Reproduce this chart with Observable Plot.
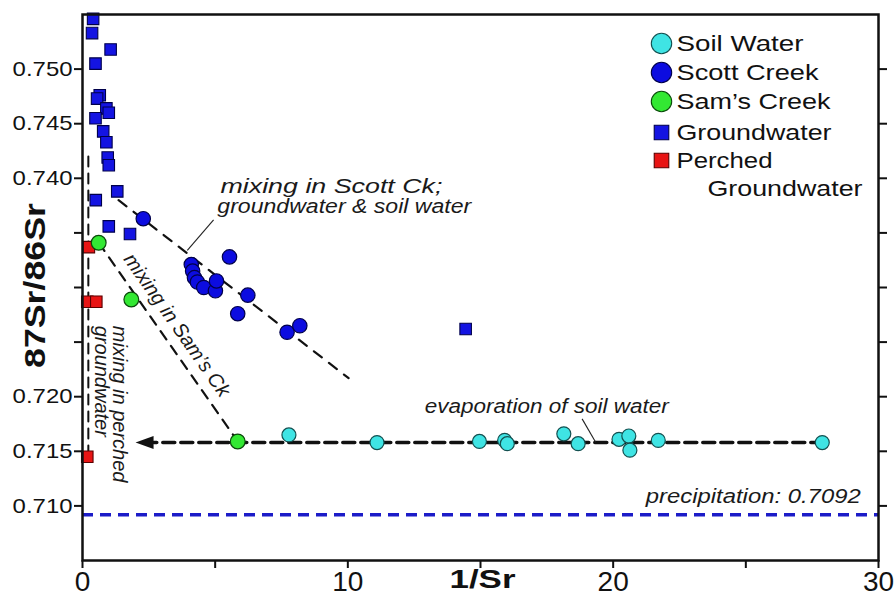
<!DOCTYPE html>
<html><head><meta charset="utf-8">
<script src="https://cdn.jsdelivr.net/npm/d3@7"></script>
<script src="https://cdn.jsdelivr.net/npm/@observablehq/plot@0.6"></script>
<style>body{margin:0;background:#fff}svg{display:block}</style>
</head><body><div id="chart"></div>
<script>
// ---------- data ----------
const soilWaterX = [7.78, 11.10, 14.96, 15.91, 16.01, 18.14, 18.68, 20.22, 20.59, 20.63, 21.70, 27.88];
const soilWaterY = [0.7165, 0.7158, 0.7159, 0.7160, 0.7157, 0.7166, 0.7157, 0.7161, 0.7164, 0.7151, 0.7160, 0.7158];

const scottX = [2.29, 4.10, 4.15, 4.22, 4.33, 4.57, 5.01, 5.05, 5.54, 6.23, 5.85, 7.71, 8.19];
const scottY = [0.7363, 0.7321, 0.7315, 0.7309, 0.7305, 0.7300, 0.7297, 0.7306, 0.7328, 0.7293, 0.7276, 0.7259, 0.7265];

const samsX = [0.61, 1.84, 5.85];
const samsY = [0.7341, 0.7289, 0.7159];

const groundX = [0.40, 0.36, 1.06, 0.49, 0.65, 0.55, 0.90, 0.99, 0.49, 0.78, 0.90, 0.95, 0.99, 1.31, 0.50, 0.99, 1.79, 14.44];
const groundY = [0.7546, 0.7533, 0.7518, 0.7505, 0.7476, 0.7473, 0.7464, 0.7460, 0.7455, 0.7443, 0.7433, 0.7419, 0.7412, 0.7388, 0.7380, 0.7356, 0.7349, 0.7262];

const perchedX = [0.24, 0.18, 0.52, 0.18];
const perchedY = [0.7337, 0.7287, 0.7287, 0.7145];

const precipitation = 0.7092;

// trend / mixing lines (endpoints)
const scottMixX = [1.36, 10.03], scottMixY = [0.7380, 0.7217];
const samsMixX = [0.61, 5.85], samsMixY = [0.7341, 0.7159];
const perchedMixX = [0.22, 0.22], perchedMixY = [0.7420, 0.7148];
const evapX = [27.9, 2.68], evapY = [0.7158, 0.7158];
const arrowX = [2.0], arrowY = [0.7158];

// annotation labels
const noteText = ["mixing in Scott Ck;", "groundwater & soil water", "evaporation of soil water"];
const noteX = [5.2, 5.08, 12.9];
const noteY = [0.73862, 0.73678, 0.71855];
const precipText = "precipitation: 0.7092";
const precipTextX = 29.33, precipTextY = 0.71031;
const samsText = "mixing in Sam\u2019s Ck";
const samsTextX = 3.56, samsTextY = 0.72655;
const perchedText = ["mixing in perched", "groundwater"];
const perchedTextX = [1.39, 0.72];
const perchedTextY = [0.7265, 0.7265];
const leaderX1 = [3.95, 18.83], leaderY1 = [0.7334, 0.71797];
const leaderX2 = [4.94, 19.34], leaderY2 = [0.7362, 0.71583];

// axes
const xTicks = [0, 5, 10, 15, 20, 25, 30];
const xTickLabels = ["0", "", "10", "", "20", "", "30"];
const yTicks = [0.710, 0.715, 0.720, 0.725, 0.730, 0.735, 0.740, 0.745, 0.750];
const yTickLabels = ["0.710", "0.715", "0.720", "", "", "", "0.740", "0.745", "0.750"];

// legend
const legendLabels = ["Soil Water", "Scott Creek", "Sam\u2019s Creek", "Groundwater", "Perched"];
const legendLabel2 = "Groundwater";

// ---------- styles ----------
const styles = [
  {fill: "#3fe4e4", stroke: "#135050", symbol: "circle"},
  {fill: "#0c0ce0", stroke: "#00004a", symbol: "circle"},
  {fill: "#33e833", stroke: "#0b4a0b", symbol: "circle"},
  {fill: "#1414e2", stroke: "#00004a", symbol: "square"},
  {fill: "#e81414", stroke: "#5a0000", symbol: "square"}
];

const pts = (xs, ys) => xs.map((x, i) => ({x, y: ys[i]}));
const soil = pts(soilWaterX, soilWaterY);
const scott = pts(scottX, scottY);
const sams = pts(samsX, samsY);
const ground = pts(groundX, groundY);
const perched = pts(perchedX, perchedY);

const leftTriangle = {
  draw(ctx) { ctx.moveTo(0, 0); ctx.lineTo(18, -6.5); ctx.lineTo(18, 6.5); ctx.closePath(); }
};

const legendRowDy = [29, 58, 87, 118, 146];
const legendMarks = legendLabels.flatMap((lab, i) => [
  Plot.dot([lab], {frameAnchor: "top-left", dx: 579, dy: legendRowDy[i],
    symbol: styles[i].symbol, r: styles[i].symbol === "circle" ? 10.2 : 8.2,
    fill: styles[i].fill, stroke: styles[i].stroke, strokeWidth: 1.1}),
  Plot.text([lab], {frameAnchor: "top-left", dx: 594, dy: legendRowDy[i], text: d => d,
    textAnchor: "start", lineAnchor: "middle", fontSize: 22, fill: "#111"})
]);

const chart = Plot.plot({
  width: 896, height: 597,
  marginLeft: 82, marginRight: 18, marginTop: 14, marginBottom: 37,
  style: {fontFamily: "'Liberation Sans', Arial, sans-serif", background: "#fff", color: "#111"},
  x: {domain: [0, 30]},
  y: {domain: [0.705, 0.755]},
  marks: [
    Plot.ruleY([precipitation], {stroke: "#1c1cc8", strokeWidth: 3.5, strokeDasharray: "11,7"}),
    Plot.line(pts(scottMixX, scottMixY), {x: "x", y: "y", stroke: "#111", strokeWidth: 2.2, strokeDasharray: "10,9"}),
    Plot.line(pts(samsMixX, samsMixY), {x: "x", y: "y", stroke: "#111", strokeWidth: 2.2, strokeDasharray: "10,8"}),
    Plot.line(pts(perchedMixX, perchedMixY), {x: "x", y: "y", stroke: "#111", strokeWidth: 2, strokeDasharray: "10,7"}),
    Plot.line(pts(evapX, evapY), {x: "x", y: "y", stroke: "#111", strokeWidth: 3.5, strokeDasharray: "12,6"}),
    Plot.dot(pts(arrowX, arrowY), {x: "x", y: "y", symbol: leftTriangle, fill: "#111", stroke: "none"}),
    Plot.link(leaderX1.map((x, i) => ({x1: x, y1: leaderY1[i], x2: leaderX2[i], y2: leaderY2[i]})),
      {x1: "x1", y1: "y1", x2: "x2", y2: "y2", stroke: "#222", strokeWidth: 1.1}),
    Plot.dot(ground, {x: "x", y: "y", symbol: "square", r: 6.5, fill: styles[3].fill, stroke: styles[3].stroke, strokeWidth: 1.1}),
    Plot.dot(perched, {x: "x", y: "y", symbol: "square", r: 6.5, fill: styles[4].fill, stroke: styles[4].stroke, strokeWidth: 1.1}),
    Plot.dot(scott, {x: "x", y: "y", r: 7.2, fill: styles[1].fill, stroke: styles[1].stroke, strokeWidth: 1.2}),
    Plot.dot(sams, {x: "x", y: "y", r: 7.4, fill: styles[2].fill, stroke: styles[2].stroke, strokeWidth: 1.2}),
    Plot.dot(soil, {x: "x", y: "y", r: 7, fill: styles[0].fill, stroke: styles[0].stroke, strokeWidth: 1.2}),
    Plot.text(noteText.map((t, i) => ({t, x: noteX[i], y: noteY[i]})),
      {x: "x", y: "y", text: "t", textAnchor: "start", lineAnchor: "bottom", fontSize: 20, fontStyle: "italic", fill: "#1a1a1a"}),
    Plot.text([{t: precipText, x: precipTextX, y: precipTextY}],
      {x: "x", y: "y", text: "t", textAnchor: "end", lineAnchor: "bottom", fontSize: 20, fontStyle: "italic", fill: "#1a1a1a"}),
    Plot.text([{t: samsText, x: samsTextX, y: samsTextY}],
      {x: "x", y: "y", text: "t", rotate: 55, textAnchor: "middle", lineAnchor: "middle", fontSize: 20, fontStyle: "italic", fill: "#1a1a1a"}),
    Plot.text(perchedText.map((t, i) => ({t, x: perchedTextX[i], y: perchedTextY[i]})),
      {x: "x", y: "y", text: "t", rotate: 90, textAnchor: "start", lineAnchor: "middle", fontSize: 20, fontStyle: "italic", fill: "#1a1a1a"}),
    ...legendMarks,
    Plot.text([legendLabel2], {frameAnchor: "top-left", dx: 625, dy: 174, text: d => d,
      textAnchor: "start", lineAnchor: "middle", fontSize: 22, fill: "#111"}),
    Plot.axisX({ticks: xTicks, tickFormat: d => xTickLabels[xTicks.indexOf(d)], tickSize: 8, tickPadding: 3,
      fontSize: 28, strokeWidth: 2, label: null}),
    Plot.axisY({ticks: yTicks, tickFormat: d => yTickLabels[yTicks.indexOf(d)], tickSize: 8, tickPadding: 2,
      fontSize: 21, strokeWidth: 2, label: null}),
    Plot.axisY({anchor: "right", ticks: yTicks, tickFormat: () => "", tickSize: 8, strokeWidth: 2, label: null}),
    Plot.text(["1/Sr"], {frameAnchor: "bottom", dx: 2, dy: 10, text: d => d, lineAnchor: "top",
      fontSize: 25, fontWeight: "bold", fill: "#111"}),
    Plot.text(["87Sr/86Sr"], {frameAnchor: "left", dx: -47, dy: -2, text: d => d, rotate: -90,
      lineAnchor: "middle", textAnchor: "middle", fontSize: 30, fontWeight: "bold", fill: "#111"}),
    Plot.frame({stroke: "#111", strokeWidth: 2.5})
  ]
});

document.getElementById("chart").append(chart);

// horizontal stretch of lettering to match the reference typeface widths
const targetWidth = new Map([
  ["1/Sr", 66], ["87Sr/86Sr", 165],
  ["Soil Water", 127], ["Scott Creek", 142], ["Sam\u2019s Creek", 154], ["Groundwater", 155], ["Perched", 96],
  ["mixing in Scott Ck;", 222], ["groundwater & soil water", 254],
  ["evaporation of soil water", 244], ["precipitation: 0.7092", 215]
]);
chart.querySelectorAll("text").forEach(el => {
  const t = el.textContent;
  if (targetWidth.has(t)) {
    el.setAttribute("textLength", targetWidth.get(t));
    el.setAttribute("lengthAdjust", "spacingAndGlyphs");
  } else if (/^0\.7\d\d$/.test(t)) {
    el.setAttribute("textLength", (el.getComputedTextLength() * 1.14).toFixed(1));
    el.setAttribute("lengthAdjust", "spacingAndGlyphs");
  }
});
</script>
</body></html>
